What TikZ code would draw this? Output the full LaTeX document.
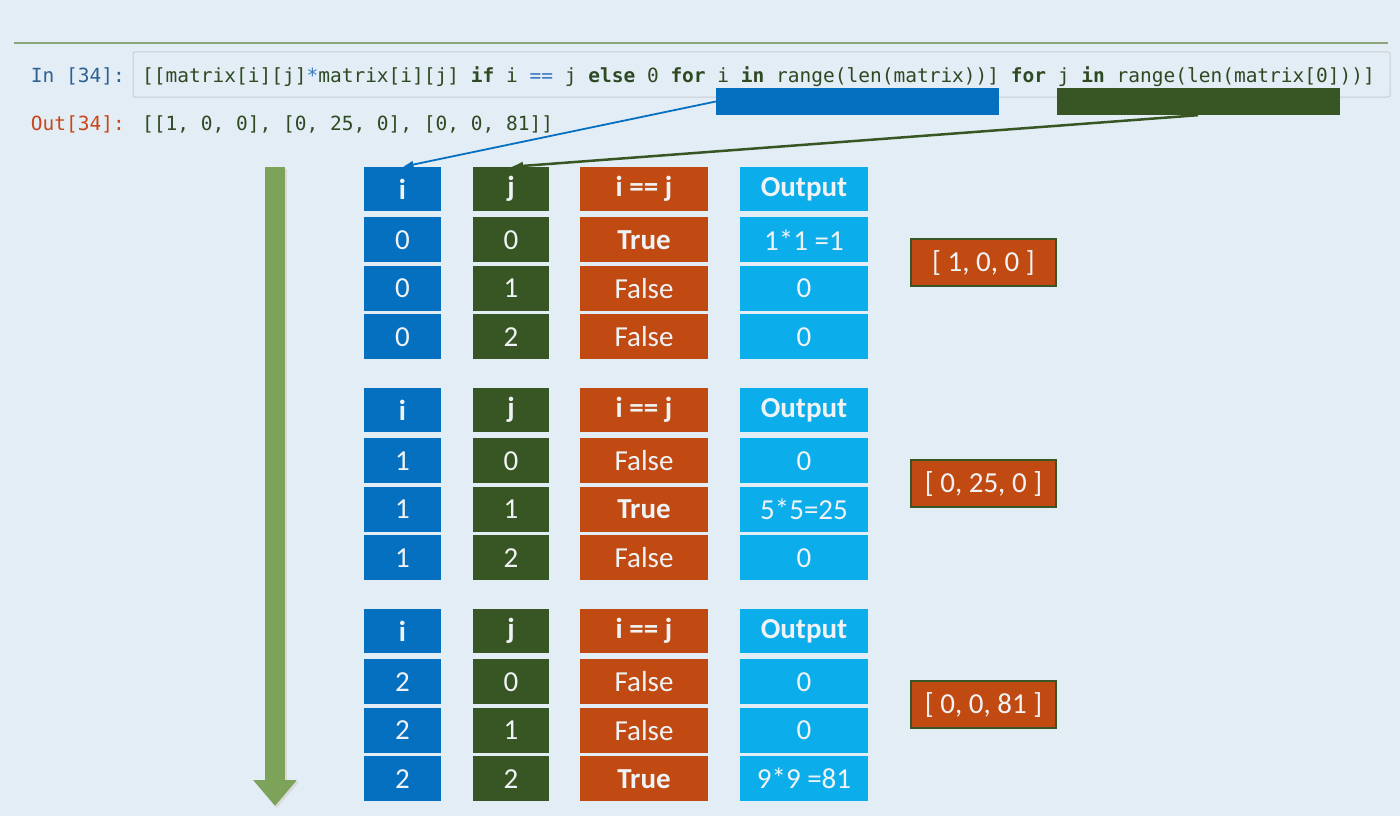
\documentclass[tikz,border=0pt]{standalone}
\usepackage{fontspec}
\setmainfont{Carlito}
\newfontfamily\codefont{DejaVu Sans Mono}
\usetikzlibrary{positioning,arrows.meta}

\definecolor{bgblue}{HTML}{E3EDF6}
\definecolor{iblue}{HTML}{0670C0}
\definecolor{jgreen}{HTML}{375623}
\definecolor{eqorange}{HTML}{C04A12}
\definecolor{outcyan}{HTML}{0BAEEA}
\definecolor{flowgreen}{HTML}{7DA35A}
\definecolor{codegreen}{HTML}{2E4A22}
\definecolor{opblue}{HTML}{3A78C0}
\definecolor{promptblue}{HTML}{2F6190}
\definecolor{promptred}{HTML}{C8461A}
\definecolor{celltext}{HTML}{F0F3F5}
\definecolor{rulegreen}{HTML}{8CA67C}
\definecolor{boxgray}{HTML}{C8CDD2}

\newcommand{\kw}[1]{\textbf{#1}}
\newcommand{\op}[1]{\textcolor{opblue}{#1}}

\begin{document}
\begin{tikzpicture}[x=1pt,y=-1pt,
	cell/.style={inner sep=0pt,minimum height=45pt,text=celltext,font=\fontsize{29}{30}\selectfont},
	head/.style={cell,minimum height=44pt,font=\fontsize{29}{30}\selectfont\bfseries},
	icol/.style={fill=iblue,minimum width=77pt},
	jcol/.style={fill=jgreen,minimum width=76pt},
	eqcol/.style={fill=eqorange,minimum width=128pt},
	outcol/.style={fill=outcyan,minimum width=128pt},
	resbox/.style={fill=eqorange,draw=jgreen,line width=2pt,inner sep=0pt,minimum width=145pt,minimum height=47pt,text=celltext,font=\fontsize{29}{30}\selectfont},
	hibar/.style={inner sep=0pt,minimum width=283pt,minimum height=27pt},
	codetext/.style={anchor=base west,inner sep=0pt,text=codegreen,font=\codefont\fontsize{19.5}{22}\selectfont},
	prompt/.style={anchor=base east,inner sep=0pt,font=\codefont\fontsize{19.5}{22}\selectfont}
	]
	\useasboundingbox[fill=bgblue] (0,0) rectangle (1400,816);

	% notebook cell
	\draw[rulegreen,line width=1.5pt] (14,43) -- (1388,43);
	\node[draw=boxgray,line width=1pt,rounded corners=2pt,inner sep=0pt,minimum width=1257pt,minimum height=45pt] (cellbox) at (761.5,74.5) {};
	\node[prompt,text=promptblue] (inprompt) at (125,82) {In [34]:};
	\node[prompt,text=promptred] (outprompt) at (125,130) {Out[34]:};
	\node[codetext] (code) at (142,82) {[[matrix[i][j]\op{*}matrix[i][j] \kw{if} i \op{==} j \kw{else} 0 \kw{for} i \kw{in} range(len(matrix))] \kw{for} j \kw{in} range(len(matrix[0]))]};
	\node[codetext] (result) at (142,130) {[[1, 0, 0], [0, 25, 0], [0, 0, 81]]};

	\node[hibar,fill=iblue] (ibar) at (857.5,101.5) {};
	\node[hibar,fill=jgreen] (jbar) at (1198,101.5) {};

	% flow arrow
	\coordinate (flowtop) at (275,167);
	\coordinate (flowend) at (275,806);
	\draw[gray!30,line width=20pt,-{Triangle[width=42pt,length=26pt]},transform canvas={shift={(2pt,-2pt)}}] (flowtop) -- (flowend);
	\draw[flowgreen,line width=20pt,-{Triangle[width=42pt,length=26pt]}] (flowtop) -- (flowend);

	% tables
	\foreach \g/\sq/\rowres in {0/{1*1 =1}/{[ 1, 0, 0 ]},1/{5*5=25}/{[ 0, 25, 0 ]},2/{9*9 =81}/{[ 0, 0, 81 ]}} {
		\node[head,icol] (i\g-0) at (402.5,{189+221*\g}) {i};
		\node[head,jcol] (j\g-0) at (511,{189+221*\g}) {j};
		\node[head,eqcol] (e\g-0) at (644,{189+221*\g}) {i == j};
		\node[head,outcol] (o\g-0) at (804,{189+221*\g}) {Output};
		\foreach \k in {1,2,3} {
			\pgfmathtruncatemacro{\p}{\k-1}
			\ifnum\k=1 \def\gap{6pt}\else\def\gap{3pt}\fi
			\node[cell,icol,below=\gap of i\g-\p] (i\g-\k) {\g};
			\node[cell,jcol,below=\gap of j\g-\p] (j\g-\k) {\p};
			\node[cell,eqcol,below=\gap of e\g-\p] (e\g-\k) {\ifnum\p=\g\relax\textbf{True}\else False\fi};
			\node[cell,outcol,below=\gap of o\g-\p] (o\g-\k) {\ifnum\p=\g\relax\sq\else 0\fi};
		}
		\node[resbox] (res\g) at (983.5,{262.5+221*\g}) {\rowres};
	}

	\draw[iblue,line width=1.8pt,-{Latex[length=11pt,width=8pt]}] (ibar.west) -- (i0-0.north);
	\draw[jgreen,line width=2.5pt,-{Latex[length=12pt,width=9pt]}] (jbar.south) -- (j0-0.north);
\end{tikzpicture}
\end{document}
